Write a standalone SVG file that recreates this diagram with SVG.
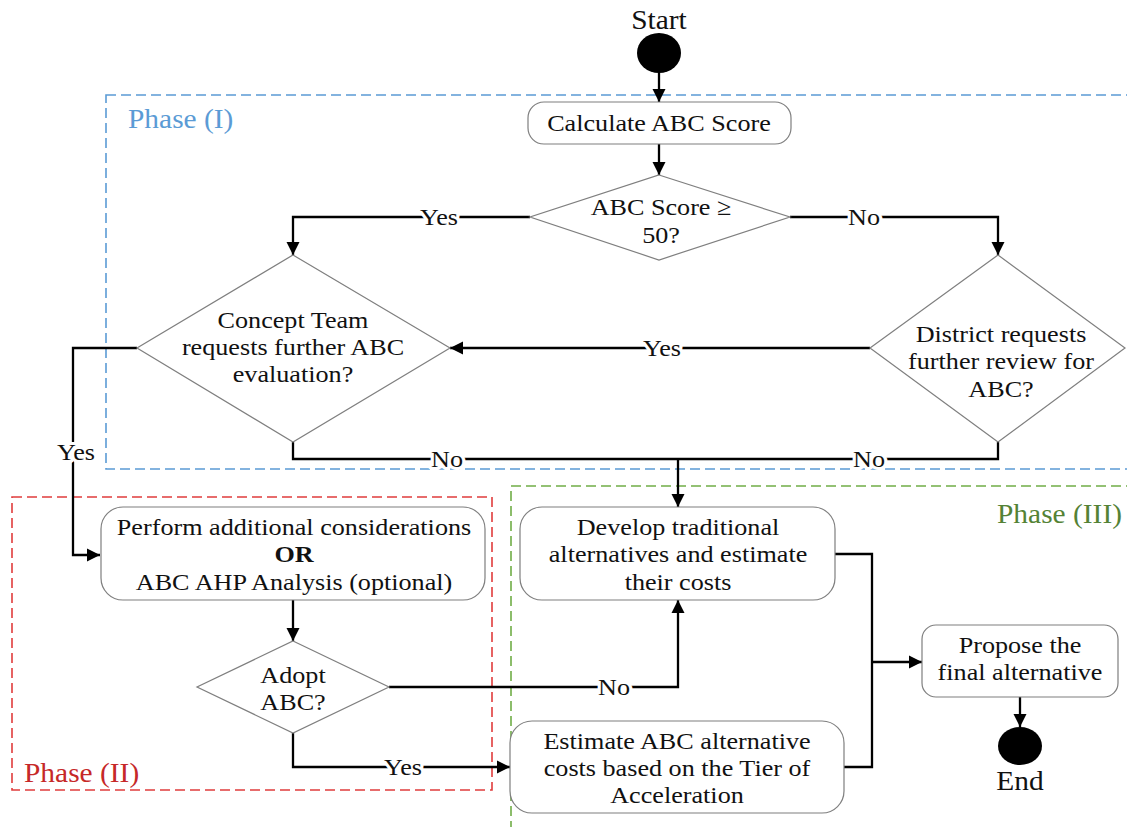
<svg xmlns="http://www.w3.org/2000/svg" width="1127" height="827" viewBox="0 0 1127 827">
  <style>
    text { font-family: "Liberation Serif", "Times New Roman", serif; fill: #111; }
    .t { font-size: 24px; text-anchor: middle; }
    .big { font-size: 27px; text-anchor: middle; }
    .lbl { font-size: 24px; text-anchor: middle; stroke: #fff; stroke-width: 6px; paint-order: stroke; stroke-linejoin: round; }
    .phase { font-size: 27px; }
    .box { fill: #fff; stroke: #7f7f7f; stroke-width: 1.2; }
    .dia { fill: #fff; stroke: #7f7f7f; stroke-width: 1.2; }
    .term { fill: #000; }
    .conn { fill: none; stroke: #000; stroke-width: 2.3; }
    .frame { fill: none; stroke-width: 1.6; stroke-dasharray: 10 5; }
  </style>
  <defs>
    <marker id="arrow" markerUnits="userSpaceOnUse" markerWidth="14" markerHeight="14" refX="13" refY="7" orient="auto">
      <path d="M0,0.5 L13,7 L0,13.5 z" fill="#000"/>
    </marker>
  </defs>

  <rect width="1127" height="827" fill="#fff"/>

  <!-- phase frames -->
  <g id="phase1">
    <rect class="frame" x="106" y="95" width="1040" height="374" stroke="#5b9bd5"/>
    <text class="phase" fill="#5b9bd5" style="fill:#5b9bd5" transform="translate(128 128) scale(1.09 1)">Phase (I)</text>
  </g>
  <g id="phase2">
    <rect class="frame" x="12" y="497" width="480" height="293" stroke="#e03c3c"/>
    <text class="phase" style="fill:#c62828" transform="translate(24 782) scale(1.09 1)">Phase (II)</text>
  </g>
  <g id="phase3">
    <rect class="frame" x="511" y="486" width="650" height="400" stroke="#70ad47"/>
    <text class="phase" style="fill:#548235;text-anchor:end" transform="translate(1122 523) scale(1.09 1)">Phase (III)</text>
  </g>

  <!-- connectors -->
  <g id="connectors">
    <path class="conn" d="M659,73 V102" marker-end="url(#arrow)"/>
    <path class="conn" d="M659,144 V175" marker-end="url(#arrow)"/>
    <path class="conn" d="M530,217 H293 V255" marker-end="url(#arrow)"/>
    <path class="conn" d="M790,217 H998 V255" marker-end="url(#arrow)"/>
    <path class="conn" d="M870,348 H450" marker-end="url(#arrow)"/>
    <path class="conn" d="M137,348 H73 V555 H100" marker-end="url(#arrow)"/>
    <path class="conn" d="M293,442 V459 H998 V442"/>
    <path class="conn" d="M678,459 V507" marker-end="url(#arrow)"/>
    <path class="conn" d="M293,600 V641" marker-end="url(#arrow)"/>
    <path class="conn" d="M389,687 H678 V600" marker-end="url(#arrow)"/>
    <path class="conn" d="M293,733 V767 H510" marker-end="url(#arrow)"/>
    <path class="conn" d="M835,554 H872 V767 H844"/>
    <path class="conn" d="M872,662 H922" marker-end="url(#arrow)"/>
    <path class="conn" d="M1020,697 V727" marker-end="url(#arrow)"/>

    <text class="lbl" transform="translate(439 225) scale(1.09 1)">Yes</text>
    <text class="lbl" transform="translate(864 225) scale(1.09 1)">No</text>
    <text class="lbl" transform="translate(662 356) scale(1.09 1)">Yes</text>
    <text class="lbl" transform="translate(76 460) scale(1.09 1)">Yes</text>
    <text class="lbl" transform="translate(447 467) scale(1.09 1)">No</text>
    <text class="lbl" transform="translate(869 467) scale(1.09 1)">No</text>
    <text class="lbl" transform="translate(614 695) scale(1.09 1)">No</text>
    <text class="lbl" transform="translate(403 775) scale(1.09 1)">Yes</text>
  </g>

  <!-- nodes -->
  <g id="start">
    <text class="big" transform="translate(659 29) scale(1.09 1)">Start</text>
    <ellipse class="term" cx="659" cy="53" rx="22" ry="20"/>
  </g>

  <g id="calc-score">
    <rect class="box" x="528" y="102" width="263" height="42" rx="16"/>
    <text class="t" transform="translate(659 131) scale(1.09 1)">Calculate ABC Score</text>
  </g>

  <g id="score-check">
    <polygon class="dia" points="659,175 790,217 659,260 530,217"/>
    <text class="t" transform="translate(661 215) scale(1.09 1)"><tspan x="0">ABC Score ≥</tspan><tspan x="0" dy="28">50?</tspan></text>
  </g>

  <g id="concept-team">
    <polygon class="dia" points="293,255 450,348 293,442 137,348"/>
    <text class="t" transform="translate(293 328) scale(1.09 1)"><tspan x="0">Concept Team</tspan><tspan x="0" dy="27">requests further ABC</tspan><tspan x="0" dy="27">evaluation?</tspan></text>
  </g>

  <g id="district">
    <polygon class="dia" points="998,255 1125,348 998,442 870,348"/>
    <text class="t" transform="translate(1001 342) scale(1.09 1)"><tspan x="0">District requests</tspan><tspan x="0" dy="27">further review for</tspan><tspan x="0" dy="28">ABC?</tspan></text>
  </g>

  <g id="additional">
    <rect class="box" x="101" y="507" width="384" height="93" rx="22"/>
    <text class="t" transform="translate(294 535) scale(1.09 1)"><tspan x="0">Perform additional considerations</tspan><tspan x="0" dy="27" font-weight="bold">OR</tspan><tspan x="0" dy="28">ABC AHP Analysis (optional)</tspan></text>
  </g>

  <g id="adopt">
    <polygon class="dia" points="293,641 389,687 293,733 197,687"/>
    <text class="t" transform="translate(293 683) scale(1.09 1)"><tspan x="0">Adopt</tspan><tspan x="0" dy="27">ABC?</tspan></text>
  </g>

  <g id="traditional">
    <rect class="box" x="520" y="507" width="315" height="93" rx="22"/>
    <text class="t" transform="translate(678 535) scale(1.09 1)"><tspan x="0">Develop traditional</tspan><tspan x="0" dy="27">alternatives and estimate</tspan><tspan x="0" dy="28">their costs</tspan></text>
  </g>

  <g id="abc-costs">
    <rect class="box" x="510" y="721" width="334" height="92" rx="22"/>
    <text class="t" transform="translate(677 749) scale(1.09 1)"><tspan x="0">Estimate ABC alternative</tspan><tspan x="0" dy="27">costs based on the Tier of</tspan><tspan x="0" dy="27">Acceleration</tspan></text>
  </g>

  <g id="propose">
    <rect class="box" x="922" y="625" width="196" height="72" rx="14"/>
    <text class="t" transform="translate(1020 653) scale(1.09 1)"><tspan x="0">Propose the</tspan><tspan x="0" dy="27">final alternative</tspan></text>
  </g>

  <g id="end">
    <ellipse class="term" cx="1020" cy="746" rx="22" ry="19"/>
    <text class="big" transform="translate(1020 790) scale(1.09 1)">End</text>
  </g>
</svg>
